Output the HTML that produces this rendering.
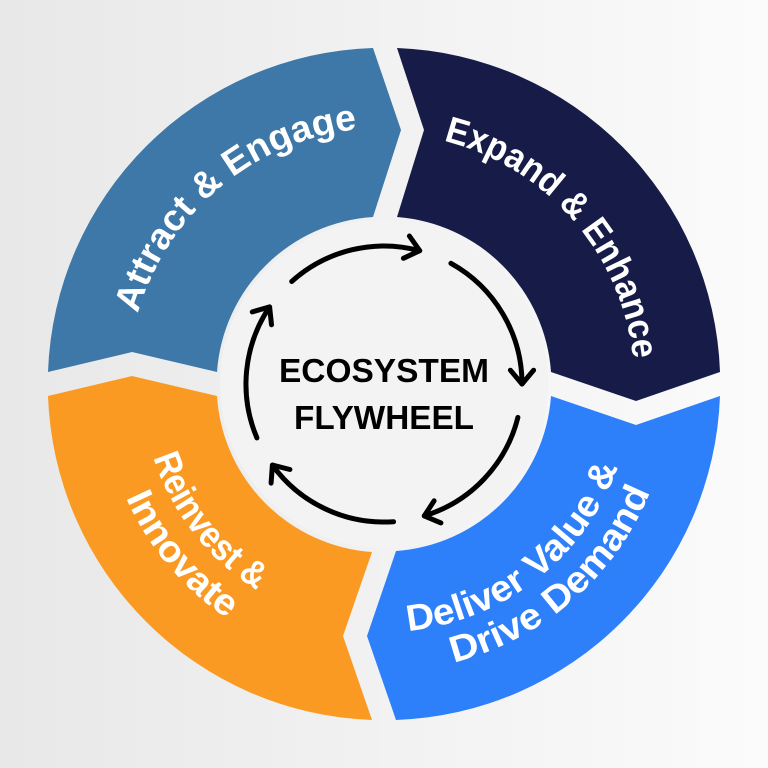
<!DOCTYPE html>
<html><head><meta charset="utf-8"><style>
html,body{margin:0;padding:0;width:768px;height:768px;overflow:hidden}
</style></head><body>
<svg width="768" height="768" viewBox="0 0 768 768" xmlns="http://www.w3.org/2000/svg">
<defs>
<linearGradient id="bg" x1="0" y1="0" x2="1" y2="0">
<stop offset="0" stop-color="#e8e8e8"/><stop offset="1" stop-color="#fbfbfb"/>
</linearGradient>
<path id="pA" d="M187.9,548.6 A256 256 0 0 1 580.1,219.4"/>
<path id="pE" d="M218.7,193.8 A252 252 0 0 1 549.3,574.2"/>
<path id="pD1" d="M188.6,536.8 A248 248 0 0 0 579.4,231.2"/>
<path id="pD2" d="M167.3,572.3 A287 287 0 0 0 600.7,195.7"/>
<path id="pR1" d="M234.9,193.3 A242 242 0 0 0 533.1,574.7"/>
<path id="pR2" d="M202.7,168.0 A282 282 0 0 0 565.3,600.0"/>
</defs>
<rect width="768" height="768" fill="url(#bg)"/>
<path d="M48,372 L132,352 L217,372 A167 167 0 0 1 373,217 L401,130 L373,48 A336 336 0 0 0 48,372 Z" fill="#3d78a8"/>
<path d="M397,48 L424,130 L397,217 A167 167 0 0 1 551,372 L636,401 L720,372 A336 336 0 0 0 397,48 Z" fill="#161c47"/>
<path d="M720,396 L636,425 L551,396 A167 167 0 0 1 396,551 L367,636 L396,720 A336 336 0 0 0 720,396 Z" fill="#2e80fa"/>
<path d="M372,720 L343,636 L372,552 A167 167 0 0 1 217,396 L132,376 L48,396 A336 336 0 0 0 372,720 Z" fill="#fa9a22"/>
<circle cx="384" cy="384" r="164" fill="#f3f3f3"/>
<g fill="none" stroke="#000" stroke-width="5" stroke-linecap="round" stroke-linejoin="round">
<path d="M291.7,281.5 A138 138 0 0 1 419.7,250.7"/>
<path d="M403.4,258.3 L419.7,250.7 L409.4,236"/>
<path d="M450.9,263.3 A138 138 0 0 1 522,384"/>
<path d="M510.4,370.2 L522,384 L533.6,370.2"/>
<path d="M517.9,417.4 A138 138 0 0 1 424.3,515.9"/>
<path d="M434.1,500.8 L424.3,515.9 L440.9,522.9"/>
<path d="M393.6,521.7 A138 138 0 0 1 272.4,465.1"/>
<path d="M289.9,469.5 L272.4,465.1 L271.1,483.1"/>
<path d="M256.9,437.9 A138 138 0 0 1 269.6,306.9"/>
<path d="M271.5,324.8 L269.6,306.9 L252.3,311.9"/>
</g>
<g font-family="Liberation Sans, sans-serif" font-weight="bold" font-size="33" text-anchor="middle" fill="#000">
<text x="384" y="382" textLength="210" lengthAdjust="spacingAndGlyphs">ECOSYSTEM</text>
<text x="384" y="429" textLength="180" lengthAdjust="spacingAndGlyphs">FLYWHEEL</text>
</g>
<g font-family="Liberation Sans, sans-serif" font-weight="bold" font-size="37" fill="#fff" text-anchor="middle">
<text><textPath href="#pA" startOffset="50%" textLength="304" lengthAdjust="spacingAndGlyphs">Attract &amp; Engage</textPath></text>
<text><textPath href="#pE" startOffset="50%" textLength="308" lengthAdjust="spacingAndGlyphs">Expand &amp; Enhance</textPath></text>
<text><textPath href="#pD1" startOffset="50%" textLength="281" lengthAdjust="spacingAndGlyphs">Deliver Value &amp;</textPath></text>
<text><textPath href="#pD2" startOffset="50%" textLength="270" lengthAdjust="spacingAndGlyphs">Drive Demand</textPath></text>
<text><textPath href="#pR1" startOffset="50%" textLength="172" lengthAdjust="spacingAndGlyphs">Reinvest &amp;</textPath></text>
<text><textPath href="#pR2" startOffset="50%" textLength="160" lengthAdjust="spacingAndGlyphs">Innovate</textPath></text>
</g>
</svg>
</body></html>
